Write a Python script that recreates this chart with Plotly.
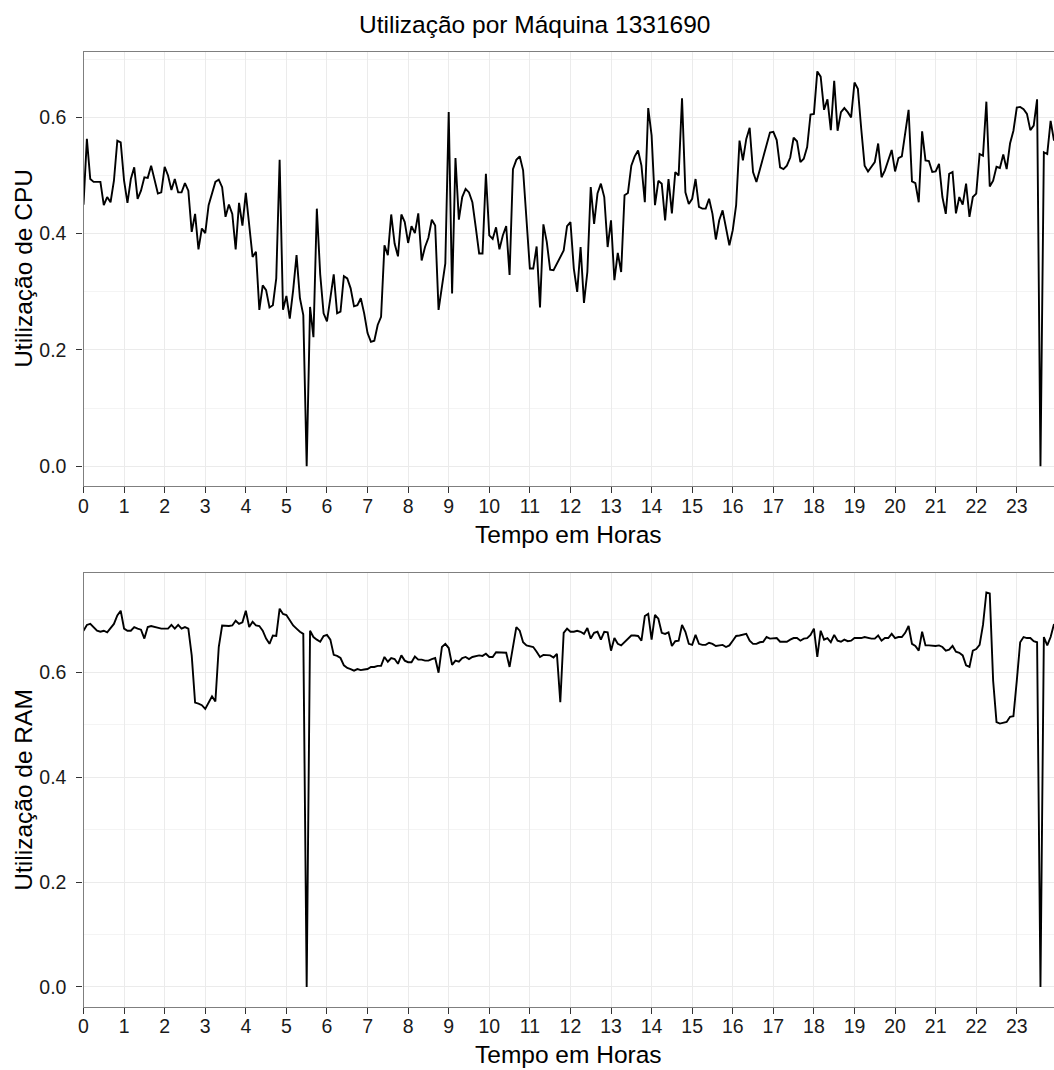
import numpy as np
import plotly.graph_objects as go

# ---------------- data (5-minute samples, hours 0 .. 23.92) ----------------
cpu = [
    0.45, 0.563, 0.494, 0.489, 0.489, 0.489, 0.449, 0.463, 0.454, 0.491,
    0.56, 0.557, 0.491, 0.453, 0.494, 0.514, 0.46, 0.474, 0.497, 0.496,
    0.517, 0.494, 0.469, 0.471, 0.515, 0.5, 0.475, 0.494, 0.471, 0.471,
    0.487, 0.474, 0.403, 0.434, 0.373, 0.409, 0.401, 0.449, 0.471, 0.489,
    0.493, 0.48, 0.429, 0.45, 0.434, 0.373, 0.453, 0.414, 0.47, 0.411,
    0.36, 0.369, 0.269, 0.311, 0.303, 0.273, 0.277, 0.323, 0.527, 0.269,
    0.293, 0.254, 0.303, 0.363, 0.289, 0.26, 0.0,
    0.274, 0.222, 0.443, 0.33,
    0.263, 0.249, 0.289, 0.33, 0.263, 0.266, 0.327, 0.323, 0.306, 0.275,
    0.277, 0.289, 0.263, 0.229, 0.214, 0.216, 0.243, 0.257, 0.38, 0.363,
    0.433, 0.383, 0.361, 0.433, 0.42, 0.384, 0.413, 0.401, 0.435, 0.354,
    0.377, 0.393, 0.424, 0.414, 0.269, 0.306, 0.349, 0.609,
    0.297, 0.53, 0.424, 0.463, 0.477, 0.471, 0.454, 0.411, 0.366, 0.366,
    0.503, 0.397, 0.391, 0.411, 0.373, 0.397, 0.413, 0.329, 0.511, 0.527,
    0.533, 0.509, 0.429, 0.34, 0.34, 0.378, 0.273, 0.416, 0.386, 0.338,
    0.337, 0.349, 0.36, 0.371, 0.413, 0.42,
    0.34, 0.3, 0.377, 0.281, 0.334, 0.48, 0.417, 0.469, 0.486, 0.463,
    0.377, 0.423, 0.32, 0.367, 0.334, 0.466, 0.47, 0.517, 0.533, 0.543,
    0.517, 0.454, 0.616, 0.569, 0.449, 0.491, 0.486, 0.423, 0.494, 0.435,
    0.506, 0.5, 0.633, 0.471, 0.451, 0.46, 0.494, 0.446, 0.443, 0.443,
    0.46, 0.434, 0.39, 0.423, 0.44, 0.411, 0.38, 0.406, 0.449, 0.56,
    0.526, 0.563, 0.582, 0.506, 0.489, 0.51, 0.533, 0.551, 0.574, 0.575,
    0.561, 0.514, 0.511, 0.517, 0.531, 0.565, 0.559, 0.523, 0.529, 0.549,
    0.605, 0.606, 0.679, 0.67, 0.613, 0.631, 0.578, 0.663, 0.577, 0.609,
    0.616, 0.609, 0.6, 0.66, 0.649, 0.58, 0.517, 0.507, 0.514, 0.523,
    0.555, 0.497, 0.509, 0.526, 0.544, 0.507, 0.53, 0.533, 0.571, 0.613,
    0.49, 0.487, 0.454, 0.576, 0.526, 0.525, 0.506, 0.507, 0.52, 0.463,
    0.434, 0.503, 0.506, 0.435, 0.463, 0.45, 0.486, 0.429, 0.463, 0.469,
    0.537, 0.534, 0.627, 0.481, 0.491, 0.515, 0.513, 0.536, 0.511, 0.555,
    0.577, 0.617, 0.618, 0.614, 0.606, 0.578, 0.586, 0.631, 0.0, 0.54,
    0.537, 0.594, 0.56,
]

ram = [
    0.679, 0.690, 0.692, 0.686, 0.679, 0.677, 0.679, 0.676, 0.683, 0.692,
    0.708, 0.717, 0.683, 0.679, 0.679, 0.686, 0.683, 0.681, 0.664, 0.686,
    0.688, 0.686, 0.684, 0.683, 0.683, 0.683, 0.690, 0.683, 0.690, 0.683,
    0.686, 0.683, 0.632, 0.542, 0.540, 0.537, 0.530, 0.543, 0.554, 0.544,
    0.648, 0.689, 0.688, 0.688, 0.689, 0.698, 0.692, 0.695, 0.717, 0.686,
    0.696, 0.689, 0.688, 0.679, 0.664, 0.654, 0.670, 0.669, 0.721, 0.711,
    0.709, 0.698, 0.689, 0.683, 0.677, 0.673, 0.0, 0.679, 0.667, 0.662,
    0.658, 0.669, 0.671, 0.662,
    0.633, 0.631, 0.627, 0.613, 0.608, 0.606, 0.603, 0.606, 0.604, 0.605,
    0.606, 0.610, 0.610, 0.612, 0.612, 0.629, 0.620, 0.627, 0.625, 0.616,
    0.632, 0.622, 0.619, 0.619, 0.630, 0.624, 0.624, 0.622, 0.622, 0.625,
    0.627, 0.599, 0.648, 0.654, 0.646, 0.614, 0.622, 0.620, 0.627, 0.629,
    0.625, 0.629, 0.631, 0.632, 0.631, 0.635, 0.629, 0.629, 0.638, 0.638,
    0.637, 0.637, 0.610, 0.651, 0.686, 0.679, 0.657, 0.651, 0.650, 0.648,
    0.639, 0.629, 0.633, 0.633, 0.632, 0.628, 0.635, 0.543, 0.675, 0.683,
    0.677, 0.677, 0.679, 0.677, 0.673, 0.684, 0.664, 0.675, 0.677, 0.662,
    0.677, 0.676, 0.641, 0.665, 0.654, 0.651, 0.658, 0.665, 0.670, 0.670,
    0.669, 0.660, 0.707, 0.711, 0.662, 0.709, 0.702, 0.675, 0.673, 0.676,
    0.650, 0.659, 0.660, 0.690, 0.677, 0.654, 0.652, 0.671, 0.654, 0.652,
    0.652, 0.656, 0.654, 0.650, 0.651, 0.652, 0.648, 0.651, 0.660, 0.669,
    0.670, 0.671, 0.673, 0.660, 0.654, 0.654, 0.657, 0.658, 0.667, 0.664,
    0.665, 0.665, 0.658, 0.658, 0.658, 0.662, 0.665, 0.665, 0.660, 0.664,
    0.665,
    0.671, 0.683, 0.629, 0.679, 0.662, 0.665, 0.657, 0.671, 0.660, 0.658,
    0.662, 0.659, 0.660, 0.665, 0.665, 0.665, 0.667, 0.665, 0.664, 0.664,
    0.670, 0.660, 0.665, 0.665, 0.673, 0.665, 0.667, 0.667, 0.675, 0.688,
    0.654, 0.650, 0.641, 0.677, 0.651, 0.651, 0.650, 0.650, 0.651, 0.648,
    0.641, 0.643, 0.650, 0.639, 0.637, 0.632, 0.613, 0.610, 0.641, 0.644,
    0.652, 0.69, 0.752, 0.750, 0.584, 0.505, 0.502, 0.503, 0.505, 0.515,
    0.516, 0.584, 0.657, 0.667, 0.665, 0.665, 0.659, 0.657, 0.0, 0.667,
    0.651, 0.667, 0.692,
]

step_minutes = 5
hour_ticks = list(range(0, 24))
y_ticks = [0.0, 0.2, 0.4, 0.6]

title_text = "Utilização por Máquina 1331690"
x_title = "Tempo em Horas"
y_titles = ["Utilização de CPU", "Utilização de RAM"]

# ---------------- figure ----------------
W, H = 1054, 1070
FONT = "Liberation Sans, Arial, Helvetica, sans-serif"

def hours(n):
    return np.arange(n) * step_minutes / 60.0

def py(px):  # pixel from top -> paper y
    return 1 - px / H

def pxx(px):
    return px / W

panels = [
    dict(top=51.7, bottom=486.0, data=cpu),
    dict(top=572.7, bottom=1006.7, data=ram),
]
x_left = 83.5

fig = go.Figure()
annotations = []
for k, p in enumerate(panels):
    vals = p["data"]
    t = hours(len(vals))
    ax = "" if k == 0 else str(k + 1)
    fig.add_trace(go.Scatter(
        x=t, y=vals, mode="lines",
        line=dict(color="black", width=1.9),
        xaxis="x" + ax, yaxis="y" + ax, showlegend=False,
        hoverinfo="skip",
    ))
    vmax = max(vals)
    vmin = min(vals)
    span = vmax - vmin
    xa = dict(
        domain=[pxx(x_left), 1.0],
        range=[0, t[-1]],
        automargin=False,
        tickmode="array", tickvals=hour_ticks,
        ticktext=[str(h) for h in hour_ticks],
        showgrid=True, gridcolor="#ebebeb", gridwidth=1,
        zeroline=False,
        showline=True, linecolor="#7f7f7f", linewidth=1.3, mirror=True,
        ticks="outside", ticklen=6, tickcolor="#333333", tickwidth=1.2,
        tickfont=dict(family=FONT, size=19.5, color="#1a1a1a"),
        ticklabelstandoff=-4,
        anchor="y" + ax,
    )
    ya = dict(
        domain=[py(p["bottom"]), py(p["top"])],
        range=[vmin - 0.05 * span, vmax + 0.05 * span],
        automargin=False,
        tickmode="array", tickvals=y_ticks,
        ticktext=["%.1f" % v for v in y_ticks],
        showgrid=True, gridcolor="#ebebeb", gridwidth=1,
        minor=dict(dtick=0.1, tick0=0, showgrid=True, gridcolor="#f4f4f4",
                   gridwidth=1, ticks=""),
        zeroline=False,
        showline=True, linecolor="#7f7f7f", linewidth=1.3, mirror=False,
        ticks="outside", ticklen=6, tickcolor="#333333", tickwidth=1.2,
        tickfont=dict(family=FONT, size=19.5, color="#1a1a1a"),
        ticklabelstandoff=6,
        anchor="x" + ax,
    )
    fig.update_layout(**{"xaxis" + ax: xa, "yaxis" + ax: ya})

    # axis titles
    annotations.append(dict(
        text=x_title, xref="paper", yref="paper",
        x=pxx((x_left + W) / 2), y=py(p["bottom"] + 48),
        xanchor="center", yanchor="middle", showarrow=False,
        font=dict(family=FONT, size=24.5, color="black"),
    ))
    annotations.append(dict(
        text=y_titles[k], xref="paper", yref="paper",
        x=pxx(24), y=py((p["top"] + p["bottom"]) / 2),
        xanchor="center", yanchor="middle", showarrow=False, textangle=-90,
        font=dict(family=FONT, size=24.5, color="black"),
    ))

annotations.append(dict(
    text=title_text, xref="paper", yref="paper",
    x=pxx(534), y=py(24), xanchor="center", yanchor="middle",
    showarrow=False, font=dict(family=FONT, size=24.5, color="black"),
))

fig.update_layout(
    template="none",
    width=W, height=H,
    margin=dict(l=0, r=0, t=0, b=0),
    paper_bgcolor="white", plot_bgcolor="white",
    annotations=annotations,
    font=dict(family=FONT),
)

fig.write_html("out.html", config={"displayModeBar": False})

# remove the default page margin so the figure sits at the window origin
with open("out.html", "r", encoding="utf-8") as f:
    html = f.read()
html = html.replace("<head>", "<head><style>html,body{margin:0;padding:0;overflow:hidden;}</style>", 1)
with open("out.html", "w", encoding="utf-8") as f:
    f.write(html)
